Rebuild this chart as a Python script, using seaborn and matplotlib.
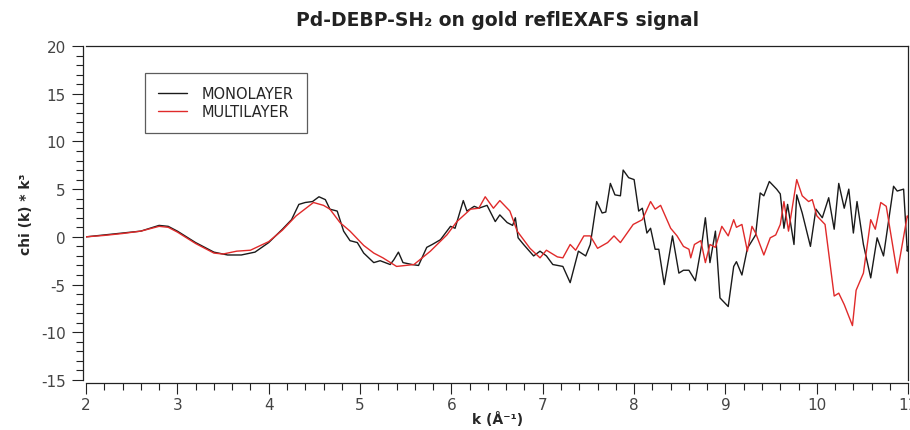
import matplotlib
matplotlib.use('Agg')
import matplotlib.pyplot as plt
from matplotlib.ticker import MultipleLocator
import seaborn as sns
import pandas as pd

# values
mono_k = [2.0, 2.2, 2.4, 2.6, 2.8, 2.9, 3.0, 3.2, 3.4, 3.55, 3.7, 3.85, 4.0, 4.15, 4.25,
          4.33, 4.4, 4.48, 4.55, 4.62, 4.67, 4.75, 4.82, 4.89, 4.97, 5.04, 5.15, 5.22,
          5.33, 5.37, 5.42, 5.47, 5.57, 5.64, 5.73, 5.79, 5.88, 5.99, 6.04, 6.13, 6.17,
          6.25, 6.30, 6.39, 6.48, 6.53, 6.61, 6.67, 6.70, 6.73, 6.79, 6.90, 6.97, 7.04,
          7.11, 7.22, 7.30, 7.39, 7.47, 7.52, 7.59, 7.65, 7.69, 7.74, 7.79, 7.85, 7.88,
          7.94, 8.00, 8.05, 8.09, 8.14, 8.18, 8.23, 8.27, 8.33, 8.42, 8.49, 8.54, 8.60,
          8.67, 8.74, 8.78, 8.83, 8.89, 8.94, 9.03, 9.09, 9.12, 9.18, 9.24, 9.33, 9.38,
          9.42, 9.48, 9.56, 9.60, 9.64, 9.68, 9.75, 9.78, 9.84, 9.93, 9.99, 10.06, 10.13,
          10.19, 10.24, 10.30, 10.35, 10.40, 10.44, 10.51, 10.59, 10.66, 10.73, 10.84,
          10.88, 10.95, 10.99, 11.0]
mono_chi = [0.0, 0.2, 0.4, 0.6, 1.2, 1.1, 0.6, -0.6, -1.6, -1.9, -1.9, -1.6, -0.6, 0.8, 1.8,
            3.4, 3.6, 3.7, 4.2, 3.9, 2.9, 2.7, 0.6, -0.4, -0.6, -1.7, -2.7, -2.5,
            -2.9, -2.4, -1.6, -2.7, -2.9, -3.0, -1.1, -0.8, -0.3, 1.1, 0.9, 3.8, 2.7,
            3.2, 3.0, 3.3, 1.6, 2.3, 1.5, 1.2, 2.0, -0.1, -0.8, -2.0, -1.5, -2.0,
            -2.9, -3.1, -4.8, -1.5, -2.0, -0.8, 3.7, 2.5, 2.6, 5.6, 4.4, 4.3, 7.0,
            6.2, 6.0, 2.7, 3.0, 0.4, 0.9, -1.3, -1.3, -5.0, 0.1, -3.8, -3.5, -3.5,
            -4.6, -0.8, 2.0, -2.7, 0.6, -6.4, -7.3, -3.1, -2.6, -4.0, -1.2, 0.2, 4.6,
            4.3, 5.8, 5.0, 4.5, 0.9, 3.4, -0.8, 4.4, 2.5, -1.0, 2.9, 2.0, 4.1,
            0.8, 5.6, 3.0, 5.0, 0.4, 3.7, -0.8, -4.3, -0.1, -2.0, 5.3,
            4.8, 5.0, -1.5, -1.0]

multi_k = [2.0, 2.2, 2.4, 2.6, 2.8, 2.9, 3.0, 3.2, 3.4, 3.5, 3.65, 3.8, 4.0, 4.15, 4.3,
           4.49, 4.6, 4.67, 4.78, 4.89, 5.04, 5.15, 5.25, 5.40, 5.59, 5.77, 5.95, 6.06,
           6.21, 6.30, 6.37, 6.46, 6.53, 6.64, 6.72, 6.86, 6.97, 7.04, 7.16, 7.22, 7.30,
           7.36, 7.45, 7.52, 7.60, 7.71, 7.78, 7.85, 7.99, 8.09, 8.18, 8.23, 8.29, 8.40,
           8.47, 8.54, 8.60, 8.62, 8.66, 8.73, 8.78, 8.83, 8.89, 8.96, 9.03, 9.09, 9.12,
           9.18, 9.24, 9.29, 9.33, 9.42, 9.49, 9.55, 9.60, 9.64, 9.69, 9.78, 9.84, 9.91,
           9.95, 10.00, 10.09, 10.19, 10.24, 10.30, 10.39, 10.43, 10.51, 10.59, 10.64,
           10.70, 10.76, 10.88, 10.99, 11.0]
multi_chi = [0.0, 0.15, 0.35, 0.6, 1.1, 1.0, 0.5, -0.7, -1.7, -1.8, -1.5, -1.4, -0.5, 0.7, 2.2,
             3.6, 3.3, 2.9, 1.5, 0.6, -0.9, -1.7, -2.2, -3.1, -2.9, -1.5, 0.2, 1.6,
             2.9, 3.0, 4.2, 3.0, 3.8, 2.7, 0.6, -1.2, -2.2, -1.4, -2.1, -2.2, -0.8,
             -1.4, 0.1, 0.1, -1.2, -0.6, 0.1, -0.6, 1.3, 1.8, 3.7, 2.9, 3.3, 0.9,
             0.1, -1.0, -1.3, -2.2, -0.8, -0.4, -2.7, -0.8, -1.1, 1.1, 0.1, 1.8, 1.0,
             1.3, -1.5, 1.1, 0.4, -1.9, -0.1, 0.2, 1.3, 3.7, 0.6, 6.0, 4.3, 3.7,
             3.9, 2.2, 1.3, -6.2, -5.9, -7.1, -9.3, -5.6, -3.8, 1.8, 0.8,
             3.6, 3.2, -3.8, 2.2, 2.0]

labels = ['MONOLAYER', 'MULTILAYER']
colors = ['#1a1a1a', '#e02a2a']

df = pd.concat([
    pd.DataFrame({'k': mono_k, 'chi': mono_chi, 'sample': labels[0]}),
    pd.DataFrame({'k': multi_k, 'chi': multi_chi, 'sample': labels[1]}),
])

sns.set_style('white')
plt.rcParams['font.family'] = ['DejaVu Sans']
plt.rcParams['axes.unicode_minus'] = False

fig = plt.figure(figsize=(9.1, 4.31), dpi=100)
ax = fig.add_axes([0.0945, 0.116, 0.9035, 0.775])

sns.lineplot(data=df, x='k', y='chi', hue='sample', palette=colors, sort=False,
             estimator=None, linewidth=1.0, ax=ax)

ax.set_xlim(2, 11)
ax.set_ylim(-15, 20)
ax.xaxis.set_major_locator(MultipleLocator(1))
ax.xaxis.set_minor_locator(MultipleLocator(0.2))
ax.yaxis.set_major_locator(MultipleLocator(5))
ax.yaxis.set_minor_locator(MultipleLocator(1))
ax.tick_params(which='both', direction='out', left=True, bottom=True, color='#222222', width=0.8)
ax.tick_params(which='major', length=8, labelsize=11, labelcolor='#444444', pad=4)
ax.tick_params(axis='x', which='major', pad=2)
ax.tick_params(which='minor', length=5)

for side in ['left', 'bottom']:
    ax.spines[side].set_position(('outward', 2.5))
for s in ax.spines.values():
    s.set_color('#222222')
    s.set_linewidth(0.9)

ax.set_title('Pd-DEBP-SH₂ on gold reflEXAFS signal', fontsize=13.5, fontweight='bold',
             color='#222222', pad=15)
ax.set_xlabel('k (Å⁻¹)', fontsize=10, fontweight='bold', labelpad=-1)
ax.set_ylabel('chi (k) * k³', fontsize=10, fontweight='bold', labelpad=6)

leg = ax.legend(loc='upper left', bbox_to_anchor=(0.072, 0.92), borderaxespad=0,
                fontsize=10.5, frameon=True, fancybox=False, handlelength=2.0,
                handletextpad=1.0, borderpad=0.9, labelspacing=0.25, title=None)
leg.get_frame().set_edgecolor('#333333')
leg.get_frame().set_linewidth(0.9)

fig.savefig('out.png', dpi=100)
